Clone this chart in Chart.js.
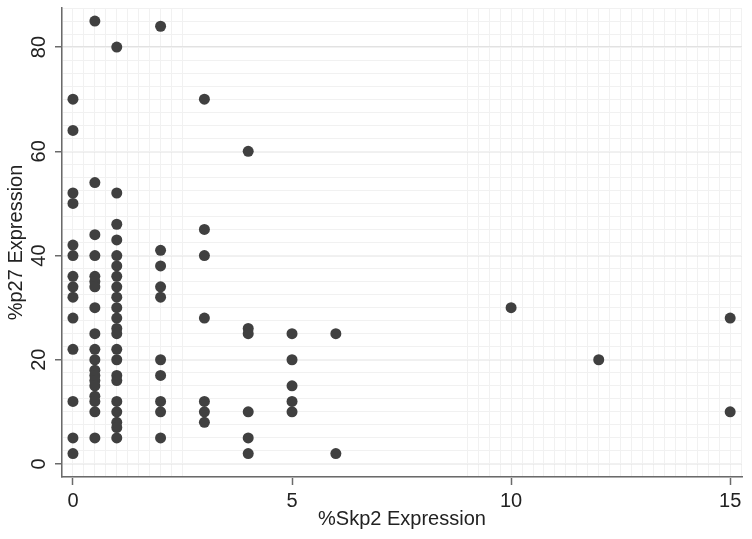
<!DOCTYPE html>
<html>
<head>
<meta charset="utf-8">
<script src="https://cdn.jsdelivr.net/npm/chart.js@4/dist/chart.umd.min.js"></script>
<style>
  body { margin: 0; background: #fff; }
  #wrap { width: 752px; height: 539px; }
</style>
</head>
<body>
<div id="wrap"><canvas id="scatter"></canvas></div>
<script>
/* --------------- Data: one column of points per %Skp2 value --------------------- */
const skp2 = [0, 0.5, 1, 2, 3, 4, 5, 6, 10, 12, 15];
const p27 = [
  [70, 64, 52, 50, 42, 40, 36, 34, 32, 28, 22, 12, 5, 2],
  [85, 54, 44, 40, 36, 35, 34, 30, 25, 22, 20, 18, 17, 16, 15, 13, 12, 10, 5],
  [80, 52, 46, 43, 40, 38, 36, 34, 32, 30, 28, 26, 25, 22, 20, 17, 16, 12, 10, 8, 7, 5],
  [84, 41, 38, 34, 32, 20, 17, 12, 10, 5],
  [70, 45, 40, 28, 12, 10, 8],
  [60, 26, 25, 10, 5, 2],
  [25, 20, 15, 12, 10],
  [25, 2],
  [30],
  [20],
  [28, 10],
];
const xTicks = [0, 5, 10, 15];
const yTicks = [0, 20, 40, 60, 80];

/* --------------- Styles --------------------- */
const font = { family: "'Liberation Sans', Arial, sans-serif", size: 20 };
const textColor = "#222222";
const axisColor = "#6a6a6a";
const majorGrid = "#e2e2e2";
const minorGrid = "#f1f1f1";

const points = [];
skp2.forEach((x, i) => {
  p27[i].forEach((y) => points.push({ x: x, y: y }));
});

/* --------------- Chart --------------------- */
new Chart(document.getElementById("scatter"), {
  type: "scatter",
  data: {
    datasets: [
      {
        data: points,
        backgroundColor: "#404040",
        borderWidth: 0,
        pointRadius: 5.5,
        pointHoverRadius: 5.5,
      },
    ],
  },
  options: {
    responsive: true,
    maintainAspectRatio: false,
    animation: false,
    events: [],
    layout: { padding: { top: 8, right: 10, left: 0, bottom: 0 } },
    plugins: {
      legend: { display: false },
      tooltip: { enabled: false },
    },
    scales: {
      x: {
        type: "linear",
        min: -0.25,
        max: 15.27,
        afterBuildTicks: (s) => { s.ticks = xTicks.map((v) => ({ value: v })); },
        afterFit: (s) => { s.height = 62; s.paddingLeft = 0; s.paddingRight = 0; },
        border: { color: axisColor, width: 1.5 },
        grid: { drawOnChartArea: false, tickLength: 8, tickColor: axisColor, tickWidth: 1.5 },
        ticks: { color: textColor, font: font, padding: 4, maxRotation: 0 },
        title: {
          display: true,
          text: "%Skp2 Expression",
          color: textColor,
          font: font,
          padding: { top: 0, bottom: 8 },
        },
      },
      xMinor: {
        type: "linear",
        position: "bottom",
        min: -0.25,
        max: 15.27,
        afterFit: (s) => { s.height = 0; },
        border: { display: false },
        grid: {
          z: -1,
          drawTicks: false,
          color: (ctx) => (ctx.tick && (ctx.tick.value <= 2.5 || ctx.tick.value >= 9) ? minorGrid : "rgba(0,0,0,0)"),
        },
        ticks: { display: false, stepSize: 0.25, includeBounds: false },
      },
      y: {
        type: "linear",
        min: -2.5,
        max: 87.5,
        afterBuildTicks: (s) => { s.ticks = yTicks.map((v) => ({ value: v })); },
        afterFit: (s) => { s.width = 62; s.paddingTop = 0; s.paddingBottom = 0; },
        border: { color: axisColor, width: 1.5 },
        grid: { color: majorGrid, lineWidth: 1.5, tickLength: 7, tickColor: axisColor, tickWidth: 1.5 },
        ticks: { color: textColor, font: font, padding: 4, minRotation: 90, maxRotation: 90, crossAlign: "center" },
        title: {
          display: true,
          text: "%p27 Expression",
          color: textColor,
          font: font,
          padding: { top: 4, bottom: 0 },
        },
      },
      yMinor: {
        type: "linear",
        position: "left",
        min: -2.5,
        max: 87.5,
        afterFit: (s) => { s.width = 0; s.paddingTop = 0; s.paddingBottom = 0; },
        border: { display: false },
        grid: { z: -1, drawTicks: false, color: minorGrid },
        ticks: { display: false, stepSize: 2.5 },
      },
    },
  },
});
</script>
</body>
</html>
